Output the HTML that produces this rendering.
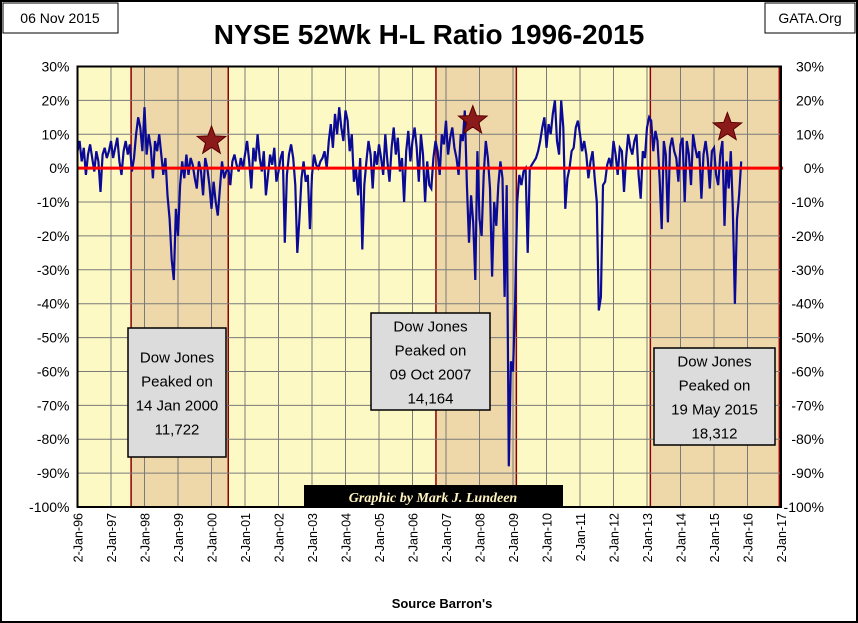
<!DOCTYPE html>
<html><head><meta charset="utf-8"><style>
body{margin:0;background:#fff;font-family:"Liberation Sans",sans-serif}
svg{display:block}
</style></head><body>
<svg id="chart" width="858" height="623" xmlns="http://www.w3.org/2000/svg">
<rect x="1" y="1" width="856" height="621" fill="#fff" stroke="#000" stroke-width="2"/>
<rect x="3" y="3" width="115" height="30" fill="#fff" stroke="#000"/>
<text x="60" y="23" font-size="14" text-anchor="middle">06 Nov 2015</text>
<rect x="765" y="3" width="90" height="30" fill="#fff" stroke="#000"/>
<text x="810" y="23" font-size="14" text-anchor="middle">GATA.Org</text>
<text x="429" y="44" font-size="28" font-weight="bold" text-anchor="middle">NYSE 52Wk H-L Ratio 1996-2015</text>
<g id="plot"></g>
<text x="442" y="608" font-size="13" font-weight="bold" text-anchor="middle">Source Barron's</text>
</svg>
<script>
const yTicks=[30,20,10,0,-10,-20,-30,-40,-50,-60,-70,-80,-90,-100];
const xTickLabels=["2-Jan-96","2-Jan-97","2-Jan-98","2-Jan-99","2-Jan-00","2-Jan-01","2-Jan-02","2-Jan-03","2-Jan-04","2-Jan-05","2-Jan-06","2-Jan-07","2-Jan-08","2-Jan-09","2-Jan-10","2-Jan-11","2-Jan-12","2-Jan-13","2-Jan-14","2-Jan-15","2-Jan-16","2-Jan-17"];
const startYear=1996;
const perYear=16;
const ratioValues=[
5,8,2,6,-2,4,7,3,-1,5,2,-7,4,6,3,5,
8,3,6,9,2,-2,5,8,4,7,-1,3,10,15,12,5,
18,4,10,6,-3,8,5,10,4,-2,3,-8,-15,-27,-33,-12,
-20,-5,2,-3,4,-2,3,1,-3,-6,2,-1,-8,3,0,-5,
-12,-4,-10,-14,-6,2,-3,-1,0,-5,2,4,1,-1,3,0,
4,8,2,-6,6,2,10,3,-1,5,-8,-2,4,1,6,-4,
-1,3,5,-22,-2,4,7,3,-5,-25,-15,-3,2,-4,-2,-18,
-2,4,1,0,2,3,5,0,8,13,6,16,10,18,12,8,
17,14,5,10,-4,0,-8,3,-24,-5,2,8,4,-6,5,1,
7,3,-2,10,2,-4,6,12,4,9,-1,3,-10,5,11,2,
8,12,6,-4,10,4,-10,2,-5,-6,3,8,5,-2,10,7,
14,4,9,12,6,3,-2,10,8,17,-5,-22,-8,-16,-33,5,
-15,-20,-2,8,3,-6,-32,-10,-17,-5,2,-3,-38,-5,-88,-57,
-60,-40,-10,-2,-5,-1,0,-25,0,1,2,3,5,8,12,15,
6,13,10,16,20,8,4,20,12,-12,-3,0,5,6,12,14,
10,5,8,4,-3,2,5,-3,-10,-42,-38,-5,-4,1,3,0,
8,4,-2,6,5,-7,3,10,6,4,8,10,-2,-9,5,3,
12,15,14,5,11,8,-3,-18,8,4,-16,6,9,5,3,-4,
7,9,-10,8,4,-5,10,6,3,5,-9,4,8,3,-6,5,
6,-2,-5,4,8,-17,2,-6,5,-12,-40,-15,-8,2];
const peakStarts=[1997.6,2006.7,2013.1];
const peakEnds=[2000.5,2009.1,2016.95];
const peakLabels=[["Dow Jones","Peaked on","14 Jan 2000","11,722"],["Dow Jones","Peaked on","09 Oct 2007","14,164"],["Dow Jones","Peaked on","19 May 2015","18,312"]];
const peakStarYears=[2000.0,2007.8,2015.4];
const peakStarValues=[8,14,12];

const NS="http://www.w3.org/2000/svg";
const L=77.5,R=781,T=66.5,B=507;
const X=yr=>L+(yr-1996)*(R-L)/21;
const Y=v=>T+(30-v)*(B-T)/130;
const g=document.getElementById('plot');
function mk(tag,at,parent){const e=document.createElementNS(NS,tag);for(const k in at)e.setAttribute(k,at[k]);(parent||g).appendChild(e);return e;}

let e=mk('rect',{x:L,y:T,width:R-L,height:B-T,fill:'#fdf9c4'});


peakStarts.forEach((s,i)=>{
 const r=mk('rect',{x:X(s),y:T,width:X(peakEnds[i])-X(s),height:B-T,fill:'#eed7a8',stroke:'#8b0000','stroke-width':1.5});
 
 
});
xTickLabels.forEach((t,i)=>{
 const x=X(1996+i);
 const l=mk('line',{x1:x,x2:x,y1:T,y2:B,stroke:'#7a7a7a','stroke-width':1});
 
 
 const tx=mk('text',{x:0,y:0,'font-size':12.5,'text-anchor':'end',transform:`translate(${x+5},${B+6}) rotate(-90)`});
 tx.textContent=t;
 
 
});
yTicks.forEach(v=>{
 const y=Y(v);
 const l=mk('line',{x1:L,x2:R,y1:y,y2:y,stroke:'#7a7a7a','stroke-width':1});
 
 
 const a=mk('text',{x:L-8,y:y+5,'font-size':14,'text-anchor':'end'});a.textContent=v+'%';
 
 
 const b=mk('text',{x:R+43,y:y+5,'font-size':14,'text-anchor':'end'});b.textContent=v+'%';
 
 
});
let pts=ratioValues.map((v,i)=>X(startYear+i/perYear).toFixed(1)+','+Y(v).toFixed(1)).join(' ');
e=mk('polyline',{points:pts,fill:'none',stroke:'#0a0a96','stroke-width':2.2,'stroke-linejoin':'miter'});


e=mk('line',{x1:L,x2:R+2,y1:Y(0),y2:Y(0),stroke:'#ff0000','stroke-width':3});


e=mk('rect',{x:L,y:T,width:R-L,height:B-T,fill:'none',stroke:'#000','stroke-width':2});


function star(cx,cy,r){let p=[];for(let k=0;k<10;k++){const a=-Math.PI/2+k*Math.PI/5,rr=k%2?r*0.42:r;p.push((cx+rr*Math.cos(a)).toFixed(1)+','+(cy+rr*Math.sin(a)).toFixed(1));}return p.join(' ');}
peakStarYears.forEach((s,i)=>{
 const st=mk('polygon',{points:star(X(s),Y(peakStarValues[i]),15),fill:'#8b1a1a',stroke:'#5a0000'});
 
 
});
const boxes=[[128,328,98,129],[371,313,119,97],[654,348,121,97]];
boxes.forEach((b,i)=>{
 const r=mk('rect',{x:b[0],y:b[1],width:b[2],height:b[3],fill:'#dcdcdc',stroke:'#000','stroke-width':1.5});
 
 
 const n=peakLabels[i].length, lh=24, y0=b[1]+b[3]/2-(n-1)*lh/2+6;
 peakLabels[i].forEach((s,j)=>{
  const t=mk('text',{x:b[0]+b[2]/2,y:y0+j*lh,'font-size':15,'text-anchor':'middle'});t.textContent=s;
  
  
 });
});
e=mk('rect',{x:304,y:485,width:259,height:23,fill:'#000'});


e=mk('text',{x:433,y:502,'font-size':14,'font-weight':'bold','font-style':'italic','font-family':'Liberation Serif,serif','text-anchor':'middle',fill:'#fff3c0'});
e.textContent='Graphic by Mark J. Lundeen';


</script>
</body></html>
